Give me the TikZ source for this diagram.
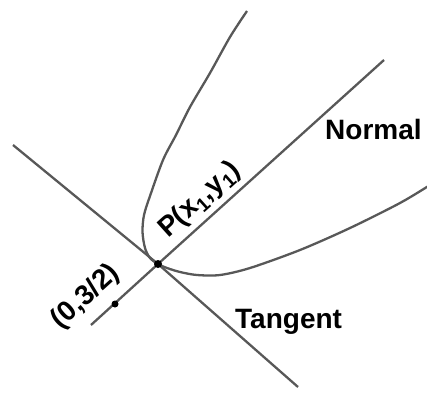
\documentclass[tikz,border=0pt]{standalone}
\usepackage{fontspec}
\setmainfont{Liberation Sans}
\definecolor{lgray}{RGB}{88,88,88}
\begin{document}
\begin{tikzpicture}[x=1pt,y=-1pt,
  ln/.style={draw=lgray, line width=2.3pt},
  dotn/.style={circle, fill=black, inner sep=0pt, minimum size=#1},
  lbl/.style={font=\fontsize{28}{31}\selectfont\bfseries, inner sep=0pt, text=black}]
\useasboundingbox (0,0) rectangle (427,396);
\coordinate (T1) at (13,145);
\coordinate (T2) at (298,387);
\coordinate (N1) at (91,325);
\coordinate (N2) at (384,60);
\coordinate (Pc) at (158,264);
\coordinate (Qc) at (115,304);
\draw[ln] (T1) -- (Pc) -- (T2);
\draw[ln] (N1) -- (Pc) -- (N2);
\begin{scope}
\clip (0,0) rectangle (427,396);
\draw[ln] plot[smooth] coordinates {(247,11) (230,37) (210,73) (190,107) (176,135) (163,160) (150,196) (144,215) (142.5,232) (145,248) (150,258) (158,264) (167,268) (180,272) (197,275) (220,275) (250,268) (300,250) (350,228) (400,203) (430,185)};
\end{scope}
\node[dotn=8pt] (P) at (Pc) {};
\node[dotn=7pt] (Q) at (Qc) {};
\node[lbl, anchor=base west] (normal) at (325,139) {Normal};
\node[lbl, anchor=base west] (tangent) at (235,328) {Tangent};
\node[lbl, rotate=42] (plabel) at (200,200) {P(x\textsubscript{1},y\textsubscript{1})};
\node[lbl, rotate=42] (qlabel) at (86,297) {(0,3/2)};
\end{tikzpicture}
\end{document}
